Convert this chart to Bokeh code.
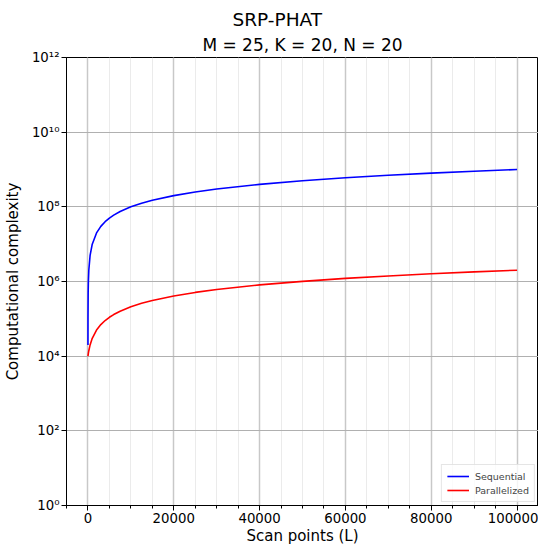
from bokeh.plotting import figure
from bokeh.models import (Range1d, FixedTicker, SingleIntervalTicker, Title,
                          Legend, LegendItem, ColumnDataSource,
                          NumeralTickFormatter)
from bokeh.embed import file_html
from bokeh.resources import INLINE

# ---- data ----
scan_points = [1, 10, 50, 100, 200, 500, 1000, 2000, 3000, 4000, 5000, 6000,
               7500, 10000, 12500, 15000, 20000, 25000, 30000, 40000, 50000,
               60000, 70000, 80000, 90000, 100000]
sequential = [2.0e4, 1.1e5, 5.1e5, 1.0e6, 2.0e6, 5.0e6, 1.0e7, 2.0e7, 3.0e7,
              4.0e7, 5.0e7, 6.0e7, 7.5e7, 1.0e8, 1.25e8, 1.5e8, 2.0e8, 2.5e8,
              3.0e8, 4.0e8, 5.0e8, 6.0e8, 7.0e8, 8.0e8, 9.0e8, 1.0e9]
parallelized = [1.0e4, 1.02e4, 1.1e4, 1.2e4, 1.4e4, 2.0e4, 3.0e4, 5.0e4,
                7.0e4, 9.0e4, 1.1e5, 1.3e5, 1.6e5, 2.1e5, 2.6e5, 3.1e5, 4.1e5,
                5.1e5, 6.1e5, 8.1e5, 1.01e6, 1.21e6, 1.41e6, 1.61e6, 1.81e6,
                2.01e6]
series_names = ["Sequential", "Parallelized"]
series_colors = ["#0000ff", "#ff0000"]
y_ticks = [1e0, 1e2, 1e4, 1e6, 1e8, 1e10, 1e12]
y_tick_labels = ["10\u2070", "10\u00b2", "10\u2074", "10\u2076", "10\u2078",
                 "10\u00b9\u2070", "10\u00b9\u00b2"]
main_title = "SRP-PHAT"
sub_title = "M = 25, K = 20, N = 20"
x_label = "Scan points (L)"
y_label = "Computational complexity"

FONT = "DejaVu Sans"

p = figure(title=None, frame_width=472, frame_height=448,
           x_range=Range1d(-5000, 105000), y_range=Range1d(1, 1e12),
           y_axis_type="log", output_backend="svg", toolbar_location=None,
           min_border_left=0, min_border_right=0, min_border_top=0,
           min_border_bottom=0, background_fill_color="white",
           border_fill_color="white")

# titles: first added sits closest to the frame
p.add_layout(Title(text=sub_title, align="center", text_font=FONT,
                   text_font_size="17px", text_font_style="normal",
                   text_color="black", standoff=5), "above")
p.add_layout(Title(text=main_title, align="left", text_font=FONT,
                   text_font_size="18.5px", text_font_style="normal",
                   text_color="black", offset=166, standoff=2), "above")
p.add_layout(Title(text=" ", align="left", text_font=FONT,
                   text_font_size="1px", standoff=2), "above")

src = ColumnDataSource(dict(x=scan_points, seq=sequential, par=parallelized))
r1 = p.line("x", "seq", source=src, line_color=series_colors[0], line_width=1.6)
r2 = p.line("x", "par", source=src, line_color=series_colors[1], line_width=1.6)

# axes
p.xaxis.ticker = SingleIntervalTicker(interval=20000, num_minor_ticks=4)
p.xaxis.formatter = NumeralTickFormatter(format="0")
p.yaxis.ticker = FixedTicker(ticks=y_ticks, minor_ticks=[])
p.yaxis.major_label_overrides = {t: l for t, l in zip(y_ticks, y_tick_labels)}
for ax in (p.xaxis[0], p.yaxis[0]):
    ax.major_label_text_font = FONT
    ax.major_label_text_font_size = "13.3px"
    ax.major_label_text_color = "black"
    ax.axis_label_text_font = FONT
    ax.axis_label_text_font_size = "15px"
    ax.axis_label_text_font_style = "normal"
    ax.axis_label_text_color = "black"
    ax.axis_line_color = "black"
    ax.major_tick_line_color = "black"
    ax.major_tick_out = 5
    ax.major_tick_in = 0
    ax.minor_tick_out = 3
    ax.minor_tick_in = 0
    ax.major_label_standoff = 2
p.xaxis.axis_label = x_label
p.yaxis.axis_label = y_label
p.xaxis.axis_label_standoff = 1
p.yaxis.axis_label_standoff = 7
p.yaxis.minor_tick_line_color = None
p.xaxis.minor_tick_line_color = "black"

# grids
p.xgrid.grid_line_color = "#c8c8c8"
p.xgrid.grid_line_width = 1.5
p.xgrid.minor_grid_line_color = "#ebebeb"
p.xgrid.minor_grid_line_width = 1
p.ygrid.grid_line_color = "#b0b0b0"
p.ygrid.grid_line_width = 1

p.outline_line_color = "black"
p.outline_line_width = 1

legend = Legend(items=[LegendItem(label=series_names[0], renderers=[r1]),
                       LegendItem(label=series_names[1], renderers=[r2])],
                location="bottom_right")
legend.label_text_font = FONT
legend.label_text_font_size = "9.5px"
legend.label_height = 12
legend.glyph_height = 12
legend.glyph_width = 22
legend.spacing = 2
legend.padding = 5
legend.margin = 3
legend.label_standoff = 6
legend.border_line_color = "#cccccc"
legend.background_fill_alpha = 0.8
p.add_layout(legend)

open("out.html", "w").write(file_html(p, INLINE))
